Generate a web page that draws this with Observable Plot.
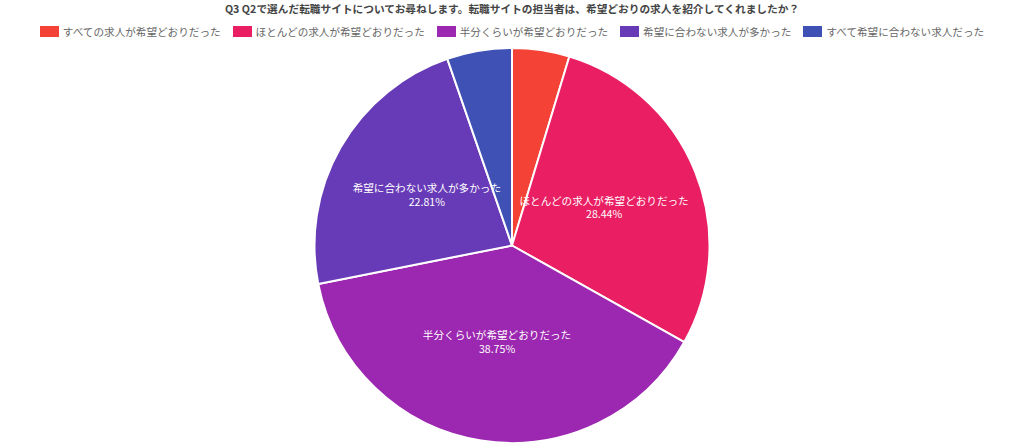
<!DOCTYPE html>
<html>
<head>
<meta charset="utf-8">
<script src="https://cdn.jsdelivr.net/npm/d3@7"></script>
<script src="https://cdn.jsdelivr.net/npm/@observablehq/plot@0.6"></script>
<style>
body{margin:0;background:#fff;font-family:"Noto Sans CJK JP","Noto Sans",sans-serif;}
#title{height:18px;line-height:17px;text-align:center;font-size:10.7px;font-weight:bold;color:#444;white-space:nowrap;}
#legend{height:26px;display:flex;justify-content:center;align-items:center;}
#legend .lg-swatches{font-family:"Noto Sans CJK JP",sans-serif !important;font-size:10.6px !important;color:#666 !important;margin:0 !important;min-height:0 !important;justify-content:center;flex-wrap:nowrap !important;}
#legend .lg-swatch{margin-right:12px !important;}
#legend .lg-swatch:last-child{margin-right:0 !important;}
#legend .lg-swatch > svg{margin-right:4px !important;}
#chart svg{display:block;}
</style>
</head>
<body>
<div id="title"></div>
<div id="legend"></div>
<div id="chart"></div>
<script>
const titleText = "Q3 Q2で選んだ転職サイトについてお尋ねします。転職サイトの担当者は、希望どおりの求人を紹介してくれましたか？";
const categories = ["すべての求人が希望どおりだった","ほとんどの求人が希望どおりだった","半分くらいが希望どおりだった","希望に合わない求人が多かった","すべて希望に合わない求人だった"];
const values = [4.69, 28.44, 38.75, 22.81, 5.31];
const colors = ["#f44336","#e91e63","#9c27b0","#673ab7","#3f51b5"];

document.getElementById("title").textContent = titleText;

const colorOpts = {type:"ordinal", domain: categories, range: colors};
const legend = Plot.legend({color: colorOpts, className: "lg", swatchWidth: 19, swatchHeight: 11});
document.getElementById("legend").appendChild(legend);

const W = 1024, H = 401;
const cx = 512, cy = 201.5, R = 197.5;
const data = categories.map((c, i) => ({name: c, value: values[i]}));
const arcs = d3.pie().sort(null).value(d => d.value)(data);
const arcGen = d3.arc().innerRadius(0).outerRadius(R);
const colorScale = Plot.scale({color: colorOpts});

const labels = arcs.filter(a => a.data.value > 10).map(a => {
  const [x, y] = arcGen.centroid(a);
  return {x: cx + x, y: cy + y - 2, text: `${a.data.name}\n${a.data.value.toFixed(2)}%`};
});

const chart = Plot.plot({
  width: W, height: H, margin: 0,
  x: {type: "identity", axis: null},
  y: {type: "identity", axis: null},
  style: {fontFamily: "'Noto Sans CJK JP', sans-serif", background: "white"},
  marks: [
    () => {
      const g = d3.create("svg:g").attr("transform", `translate(${cx},${cy})`);
      g.selectAll("path").data(arcs).join("path")
        .attr("d", arcGen)
        .attr("fill", a => colorScale.apply(a.data.name))
        .attr("stroke", "white")
        .attr("stroke-width", 2)
        .attr("stroke-linejoin", "round");
      return g.node();
    },
    Plot.text(labels, {x: "x", y: "y", text: "text", fill: "white", fontSize: 10.6, lineHeight: 1.3})
  ]
});
document.getElementById("chart").appendChild(chart);
</script>
</body>
</html>
